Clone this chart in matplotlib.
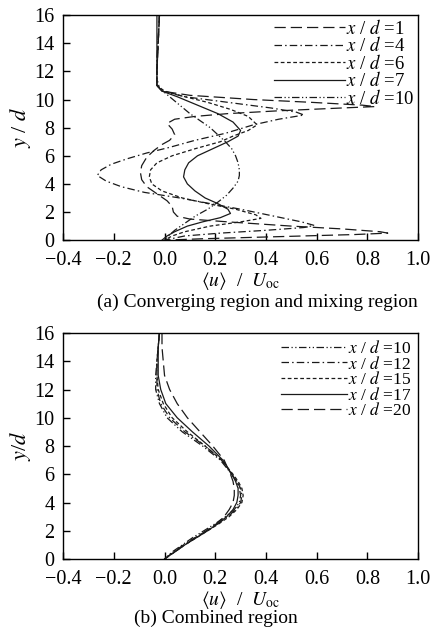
import matplotlib
matplotlib.use("Agg")
import matplotlib.pyplot as plt

plt.rcParams['font.family'] = ['Liberation Serif', 'DejaVu Serif']
plt.rcParams['mathtext.fontset'] = 'stix'

# ---- panel (a): converging region and mixing region ----
y1 = [16, 14, 12, 11, 10.6, 10.3, 10.0, 9.8, 9.6, 9.5, 9.4, 9.2, 9.0, 8.8, 8.6, 8.3, 7.9, 7.5, 7.1,
      6.8, 6.4, 5.9, 5.3, 4.8, 4.3, 3.8, 3.3, 2.8, 2.4, 2.0, 1.7, 1.5, 1.3, 1.0, 0.8, 0.6, 0.5,
      0.4, 0.25, 0.1, 0]
u1 = [-0.02, -0.025, -0.03, -0.03, -0.01, 0.10, 0.35, 0.58, 0.78, 0.83, 0.70, 0.45, 0.25, 0.12,
      0.04, 0.01, 0.03, 0.04, 0.02, -0.01, -0.04, -0.07, -0.09, -0.095, -0.09, -0.07, -0.03, 0.01,
      0.03, 0.035, 0.05, 0.10, 0.25, 0.50, 0.70, 0.85, 0.88, 0.75, 0.45, 0.15, 0.0]

y4 = [16, 14, 12, 11, 10.6, 10.2, 9.8, 9.4, 9.1, 8.9, 8.6, 8.2, 7.6, 7.1, 6.6, 6.2, 5.8, 5.4, 5.0,
      4.6, 4.2, 3.8, 3.4, 3.0, 2.6, 2.2, 1.9, 1.6, 1.3, 1.05, 0.9, 0.7, 0.5, 0.3, 0]
u4 = [-0.02, -0.025, -0.03, -0.03, -0.01, 0.08, 0.25, 0.42, 0.52, 0.55, 0.45, 0.35, 0.24, 0.12,
      0.02, -0.07, -0.145, -0.21, -0.25, -0.265, -0.23, -0.17, -0.08, 0.06, 0.18, 0.30, 0.38,
      0.46, 0.54, 0.59, 0.55, 0.40, 0.22, 0.08, 0.0]

y6 = [16, 14, 12, 11, 10.6, 10.2, 9.8, 9.3, 8.8, 8.2, 7.8, 7.4, 7.0, 6.5, 6.0, 5.5, 5.0, 4.5, 4.0,
      3.5, 3.0, 2.6, 2.2, 1.8, 1.55, 1.3, 1.0, 0.6, 0.3, 0]
u6 = [-0.02, -0.025, -0.03, -0.03, 0.0, 0.08, 0.17, 0.26, 0.33, 0.365, 0.33, 0.27, 0.22, 0.12,
      0.03, -0.03, -0.055, -0.06, -0.05, -0.01, 0.07, 0.17, 0.28, 0.36, 0.38, 0.30, 0.18, 0.08,
      0.03, 0.0]

y7 = [16, 14, 12, 11, 10.6, 10.2, 9.6, 9.0, 8.4, 7.8, 7.4, 7.0, 6.5, 6.0, 5.5, 5.0, 4.5, 4.0, 3.5,
      3.0, 2.6, 2.2, 1.9, 1.6, 1.3, 1.0, 0.6, 0.3, 0]
u7 = [-0.03, -0.03, -0.03, -0.03, -0.01, 0.05, 0.13, 0.21, 0.27, 0.30, 0.29, 0.25, 0.19, 0.13,
      0.095, 0.08, 0.075, 0.09, 0.12, 0.16, 0.21, 0.25, 0.26, 0.22, 0.15, 0.09, 0.04, 0.01, -0.01]

y10 = [16, 13, 11.5, 10.8, 10.2, 9.6, 9.0, 8.5, 8.0, 7.5, 7.0, 6.5, 6.0, 5.5, 5.0, 4.6, 4.2, 3.7,
       3.2, 2.7, 2.2, 1.7, 1.2, 0.7, 0.3, 0]
u10 = [-0.02, -0.03, -0.03, -0.02, 0.02, 0.06, 0.10, 0.14, 0.18, 0.21, 0.24, 0.265, 0.28, 0.29,
       0.295, 0.295, 0.29, 0.27, 0.245, 0.21, 0.17, 0.12, 0.08, 0.04, 0.015, 0.0]

# ---- panel (b): combined region ----
yb = [16, 15, 14, 13, 12, 11, 10, 9, 8, 7, 6, 5.5, 5, 4.5, 4, 3.5, 3, 2.5, 2, 1.5, 1, 0.5, 0]
ub10 = [-0.02, -0.025, -0.03, -0.035, -0.035, -0.02, 0.01, 0.07, 0.15, 0.22, 0.265, 0.285, 0.295,
        0.30, 0.295, 0.275, 0.24, 0.20, 0.155, 0.11, 0.07, 0.03, 0.0]
ub12 = [-0.02, -0.025, -0.03, -0.03, -0.03, -0.015, 0.02, 0.08, 0.16, 0.225, 0.265, 0.285, 0.30,
        0.305, 0.30, 0.28, 0.25, 0.21, 0.165, 0.12, 0.075, 0.035, 0.0]
ub15 = [-0.02, -0.025, -0.03, -0.03, -0.025, -0.005, 0.03, 0.09, 0.16, 0.225, 0.27, 0.29, 0.305,
        0.31, 0.305, 0.285, 0.255, 0.215, 0.17, 0.125, 0.08, 0.04, 0.0]
ub17 = [-0.02, -0.025, -0.025, -0.025, -0.015, 0.005, 0.05, 0.11, 0.175, 0.23, 0.265, 0.28, 0.29,
        0.29, 0.285, 0.27, 0.245, 0.21, 0.17, 0.125, 0.08, 0.04, 0.0]
ub20 = [-0.01, -0.01, -0.005, 0.0, 0.02, 0.05, 0.09, 0.14, 0.19, 0.235, 0.26, 0.27, 0.275, 0.275,
        0.27, 0.255, 0.235, 0.205, 0.165, 0.12, 0.08, 0.04, 0.0]

labels_a = ['1', '4', '6', '7', '10']
labels_b = ['10', '12', '15', '17', '20']

LONG = (0, (9, 4))
DASHDOT = (0, (6, 2.5, 1.2, 2.5))
SHORT = (0, (3, 2))
SOLID = '-'
DDOT = (0, (6, 2, 1, 2, 1, 2))

fig = plt.figure(figsize=(4.32, 6.32), dpi=100)
ax_a = fig.add_axes([0.146, 0.620, 0.822, 0.356])
ax_b = fig.add_axes([0.146, 0.1155, 0.822, 0.3576])

lw = 0.9
col = '#1a1a1a'
curves_a = [(u1, y1, LONG), (u4, y4, DASHDOT), (u6, y6, SHORT), (u7, y7, SOLID), (u10, y10, DDOT)]
for (u, y, ls), lab in zip(curves_a, labels_a):
    ax_a.plot(u, y, ls=ls, color=col, lw=lw, label=r'$x$ / $d$ =' + lab)

curves_b = [(ub10, DDOT), (ub12, DASHDOT), (ub15, SHORT), (ub17, SOLID), (ub20, LONG)]
for (u, ls), lab in zip(curves_b, labels_b):
    ax_b.plot(u, yb, ls=ls, color=col, lw=lw, label=r'$x$ / $d$ =' + lab)

legend_opts = [(ax_a, r'$y$ / $d$', 13.5, -0.08, 0.1), (ax_b, r'$y$/$d$', 12.5, -0.08, 0.3)]
for ax, ylab, lfs, spacing, bpad in legend_opts:
    ax.set_xlim(-0.4, 1.0)
    ax.set_ylim(0, 16)
    ax.set_xticks([-0.4, -0.2, 0.0, 0.2, 0.4, 0.6, 0.8, 1.0])
    ax.set_xticklabels(['\u22120.4', '\u22120.2', '0.0', '0.2', '0.4', '0.6', '0.8', '1.0'])
    ax.set_yticks(range(0, 17, 2))
    ax.tick_params(direction='in', length=5, width=1, labelsize=14.5, pad=6)
    ax.tick_params(axis='x', pad=8)
    for s in ax.spines.values():
        s.set_linewidth(1.0)
    ax.set_ylabel(ylab, fontsize=16, labelpad=1)
    ax.set_xlabel(r'$\langle u\rangle$  /  $U_{\mathrm{oc}}$', fontsize=14, labelpad=0)
    ax.legend(loc='upper right', bbox_to_anchor=(1.0, 1.0), frameon=False, fontsize=lfs,
              handlelength=3.8, handletextpad=0.05, labelspacing=spacing,
              borderpad=bpad, borderaxespad=0.1)

fig.text(0.595, 0.522, '(a) Converging region and mixing region', ha='center', va='center', fontsize=14)
fig.text(0.50, 0.021, '(b) Combined region', ha='center', va='center', fontsize=14)

fig.savefig('out.png', dpi=100)
